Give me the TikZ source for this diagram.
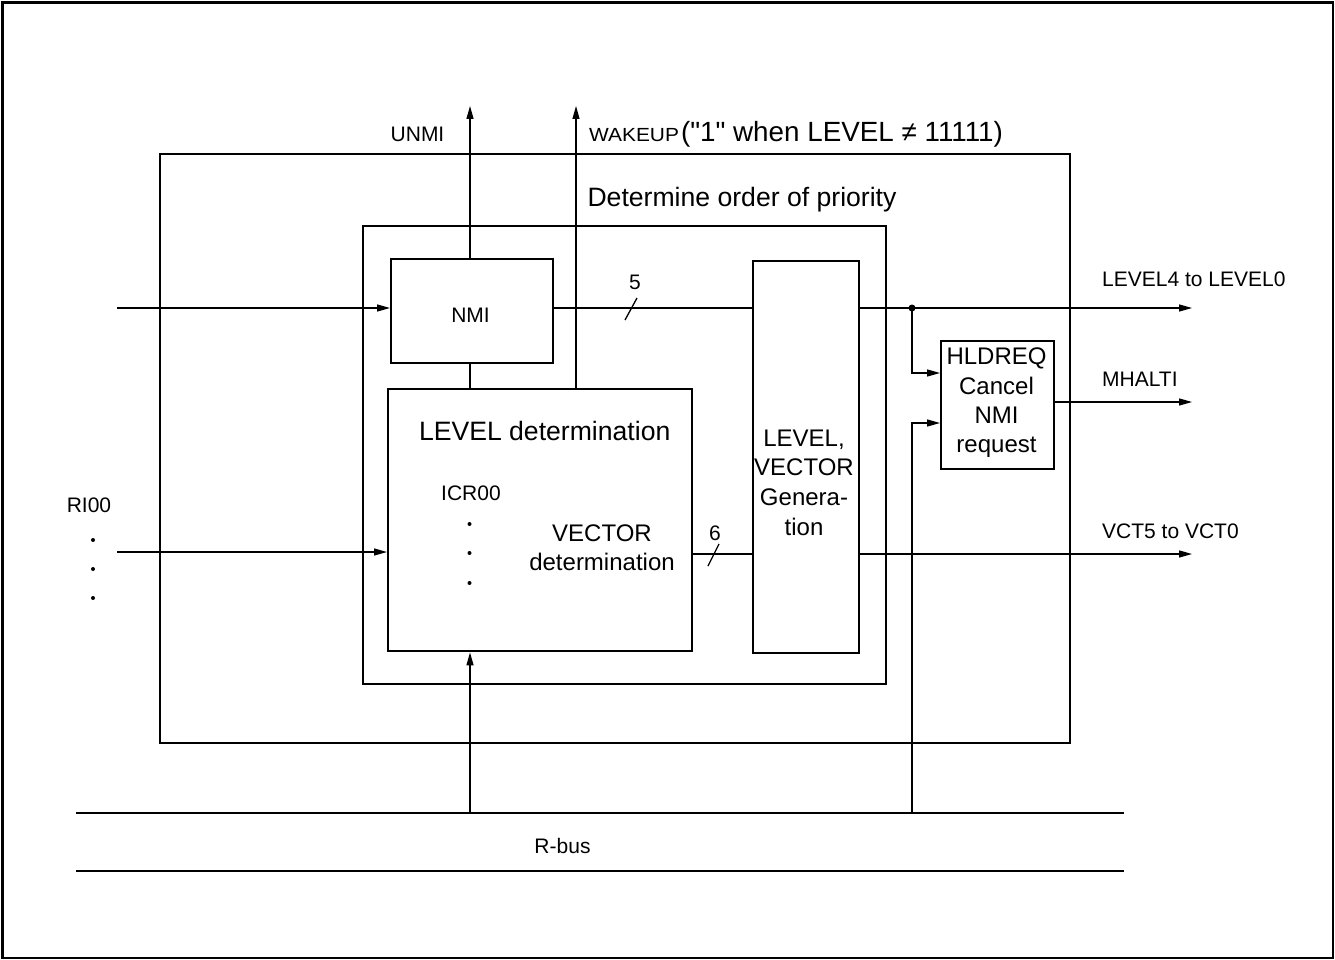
\documentclass[tikz,border=0pt]{standalone}
\usepackage{fontspec}
\usepackage{graphicx}
\setmainfont{Liberation Sans}
\usetikzlibrary{arrows.meta}
\newcommand{\fsS}{\fontsize{21}{25}\selectfont}
\newcommand{\fsM}{\fontsize{24}{29}\selectfont}
\newcommand{\fsL}{\fontsize{26.6}{32}\selectfont}
\newcommand{\fsP}{\fontsize{27.8}{32}\selectfont}
\newcommand{\fsW}{\fontsize{19}{22}\selectfont}
\newcommand{\sqt}{\XeTeXglyph\XeTeXcharglyph"22\relax}
\begin{document}
\begin{tikzpicture}[x=1pt,y=-1pt,
  thinln/.style={line width=1.3pt},
  arr/.style={thinln,-{Triangle[length=13pt,width=7pt]}},
  box/.style={draw,line width=2.4pt,inner sep=0pt,anchor=north west},
  bus/.style={line width=2.4pt},
  ts/.style={inner sep=0pt,anchor=base,font=\fsS},
  tsw/.style={inner sep=0pt,anchor=base west,font=\fsS},
  tm/.style={inner sep=0pt,anchor=base,font=\fsM},
  tl/.style={inner sep=0pt,anchor=base,font=\fsL},
  dotf/.style={fill,circle,inner sep=0pt,minimum size=4pt},
  jdotf/.style={fill,circle,inner sep=0pt,minimum size=7pt}]
\useasboundingbox (0,0) rectangle (1335,960);
\draw[line width=2.5pt] (2.5,2.5) rectangle (1333,958);
% boxes
\node[box,minimum width=910pt,minimum height=589pt] (outer) at (159,153) {};
\node[box,minimum width=523pt,minimum height=458pt] (prio) at (362,225) {};
\node[box,minimum width=162pt,minimum height=104pt] (nmi) at (390,258) {};
\node[box,minimum width=304pt,minimum height=262pt] (lvl) at (387,388) {};
\node[box,minimum width=106pt,minimum height=392pt] (gen) at (752,260) {};
\node[box,minimum width=113pt,minimum height=128pt] (hld) at (940,340) {};
% coordinates
\coordinate (inN) at (117,308);
\coordinate (inR) at (117,552);
\coordinate (unmiT) at (470,106);
\coordinate (wakT) at (576,106);
\coordinate (lvOut) at (1192,308);
\coordinate (jn) at (912,308);
\coordinate (mhOut) at (1192,402);
\coordinate (vcOut) at (1192,554);
\coordinate (busA) at (470,813);
\coordinate (busB) at (912,813);
\coordinate (b1l) at (76,813);
\coordinate (b1r) at (1124,813);
\coordinate (b2l) at (76,871);
\coordinate (b2r) at (1124,871);
% connectors
\draw[arr] (inN) -- (inN -| nmi.west);
\draw[arr] (inR) -- (inR -| lvl.west);
\draw[arr] (nmi.north -| unmiT) -- (unmiT);
\draw[thinln] (nmi.south -| unmiT) -- (lvl.north -| unmiT);
\draw[arr] (lvl.north -| wakT) -- (wakT);
\draw[thinln] (nmi.east |- inN) -- (gen.west |- inN);
\draw[thinln] (625,320) -- (637,298);
\draw[arr] (gen.east |- lvOut) -- (lvOut);
\node[jdotf] (jdot) at (jn) {};
\draw[arr] (jn) |- (hld.west |- 0,373);
\draw[arr] (busB) |- (hld.west |- 0,423);
\draw[arr] (hld.east |- mhOut) -- (mhOut);
\draw[thinln] (lvl.east |- vcOut) -- (gen.west |- vcOut);
\draw[thinln] (708,566) -- (719,544);
\draw[arr] (gen.east |- vcOut) -- (vcOut);
\draw[arr] (busA) -- (busA |- lvl.south);
\draw[bus] (b1l) -- (b1r);
\draw[bus] (b2l) -- (b2r);
% texts
\node[ts] (tunmi) at (417.5,141.7) {UNMI};
\node[inner sep=0pt,anchor=base west] (twak) at (589,142) {\scalebox{1.1}[1]{\fsW WAKEUP}\hspace{2pt}{\fsP (\sqt1\sqt\ when LEVEL ≠ 11111)}};
\node[tl] (tprio) at (742,207) {Determine order of priority};
\node[ts] (tnmi) at (470.5,322.3) {NMI};
\node[ts] (t5) at (635,289) {5};
\node[ts] (t6) at (715,540) {6};
\node[tsw] (tlv) at (1102,286.7) {LEVEL4 to LEVEL0};
\node[tsw] (tmh) at (1102,386.7) {MHALTI};
\node[tsw] (tvc) at (1102,538.3) {VCT5 to VCT0};
\node[tm] (h1) at (996.5,364.5) {HLDREQ};
\node[tm] (h2) at (996.5,394) {Cancel};
\node[tm] (h3) at (996.5,423) {NMI};
\node[tm] (h4) at (996.5,452) {request};
\node[tl] (tlvl) at (544.7,440) {LEVEL determination};
\node[ts] (ticr) at (471,500) {ICR00};
\node[tm] (tv1) at (602,541.7) {VECTOR};
\node[tm] (tv2) at (602,570.7) {determination};
\node[tm] (g1) at (804,446.5) {LEVEL,};
\node[tm] (g2) at (804,475.5) {VECTOR};
\node[tm] (g3) at (804,505.5) {Genera-};
\node[tm] (g4) at (804,535) {tion};
\node[ts] (tri) at (89,512.3) {RI00};
\node[ts] (tbus) at (562.5,853) {R-bus};
% dots
\node[dotf] (d1) at (469.5,524) {};
\node[dotf] (d2) at (469.5,553) {};
\node[dotf] (d3) at (469.5,583) {};
\node[dotf] (r1) at (93,540) {};
\node[dotf] (r2) at (93,569) {};
\node[dotf] (r3) at (93,598) {};
\end{tikzpicture}
\end{document}
